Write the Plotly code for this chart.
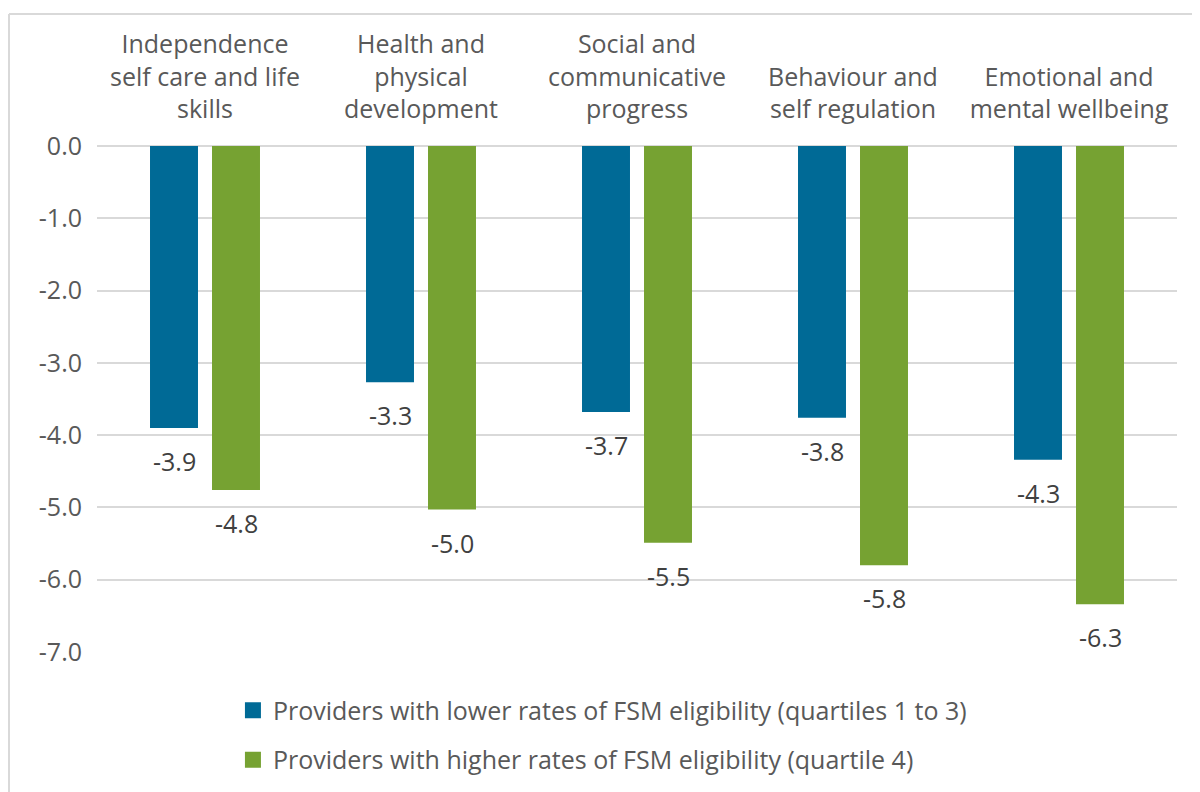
import plotly.graph_objects as go

categories = [
    "Independence<br>self care and life<br>skills",
    "Health and<br>physical<br>development",
    "Social and<br>communicative<br>progress",
    "Behaviour and<br>self regulation",
    "Emotional and<br>mental wellbeing",
]
lower_fsm = [-3.90, -3.27, -3.68, -3.76, -4.34]
higher_fsm = [-4.76, -5.03, -5.49, -5.80, -6.34]
series_names = [
    "Providers with lower rates of FSM eligibility (quartiles 1 to 3)",
    "Providers with higher rates of FSM eligibility (quartile 4)",
]
y_ticks = [0, -1, -2, -3, -4, -5, -6, -7]

FONT = "'Open Sans', Lato, sans-serif"
TXT = "#595959"
BLUE = "#006A96"
GREEN = "#76A232"
FS = 25

# page has an 8px body margin; figure sized to fit the window
W, H = 1192, 784
L, R, T, B = 89, 23, 138, 140
PW, PH = W - L - R, H - T - B

fig = go.Figure()
series = [
    (series_names[0], lower_fsm, BLUE, "a", -31),
    (series_names[1], higher_fsm, GREEN, "b", 31),
]
annotations = []
for name, vals, col, grp, dx in series:
    fig.add_trace(go.Bar(
        x=categories, y=vals, name=name, legendgroup=grp, showlegend=False,
        marker=dict(color=col, line=dict(width=0)),
    ))
    fig.add_trace(go.Scatter(
        x=[None], y=[None], mode="markers", name=name, legendgroup=grp,
        marker=dict(symbol="square", size=16, color=col),
    ))
    for c, v in zip(categories, vals):
        annotations.append(dict(
            x=c, y=v, xref="x", yref="y", text=f"{v:.1f}", showarrow=False,
            xshift=dx, yshift=-33, yanchor="middle",
            font=dict(size=FS, color="#404040", family=FONT),
        ))

top_y = 1 + (T - 6) / PH
fig.update_layout(
    width=W, height=H,
    paper_bgcolor="white", plot_bgcolor="white",
    font=dict(family=FONT, size=FS, color=TXT),
    margin=dict(l=L, r=R, t=T, b=B, autoexpand=False),
    barmode="group", bargap=0.426, bargroupgap=0.226,
    showlegend=True,
    legend=dict(
        orientation="v", x=0.468, xanchor="center", y=-0.07, yanchor="top",
        font=dict(size=FS, color=TXT, family=FONT),
        traceorder="grouped", tracegroupgap=14,
        itemwidth=30,
    ),
    xaxis=dict(
        side="top", showgrid=False, showline=False, ticks="",
        tickfont=dict(size=FS, color=TXT), ticklabelstandoff=22,
        automargin=False,
    ),
    yaxis=dict(
        range=[-7, 0], tickvals=y_ticks,
        ticktext=[f"{v:.1f}" for v in y_ticks],
        showgrid=True, gridcolor="#D9D9D9", gridwidth=2,
        zeroline=True, zerolinecolor="#D9D9D9", zerolinewidth=2,
        showline=False, ticks="", ticklabelstandoff=14,
        tickfont=dict(size=FS, color=TXT), automargin=False,
    ),
    annotations=annotations,
    shapes=[
        dict(type="line", xref="paper", yref="paper",
             x0=(1 - L) / PW, x1=(W + 20 - L) / PW, y0=top_y, y1=top_y,
             line=dict(color="#D9D9D9", width=2)),
        dict(type="line", xref="paper", yref="paper",
             x0=(1 - L) / PW, x1=(1 - L) / PW, y0=-(B + 20) / PH, y1=top_y,
             line=dict(color="#D9D9D9", width=2)),
    ],
)

fig.write_html("out.html")
